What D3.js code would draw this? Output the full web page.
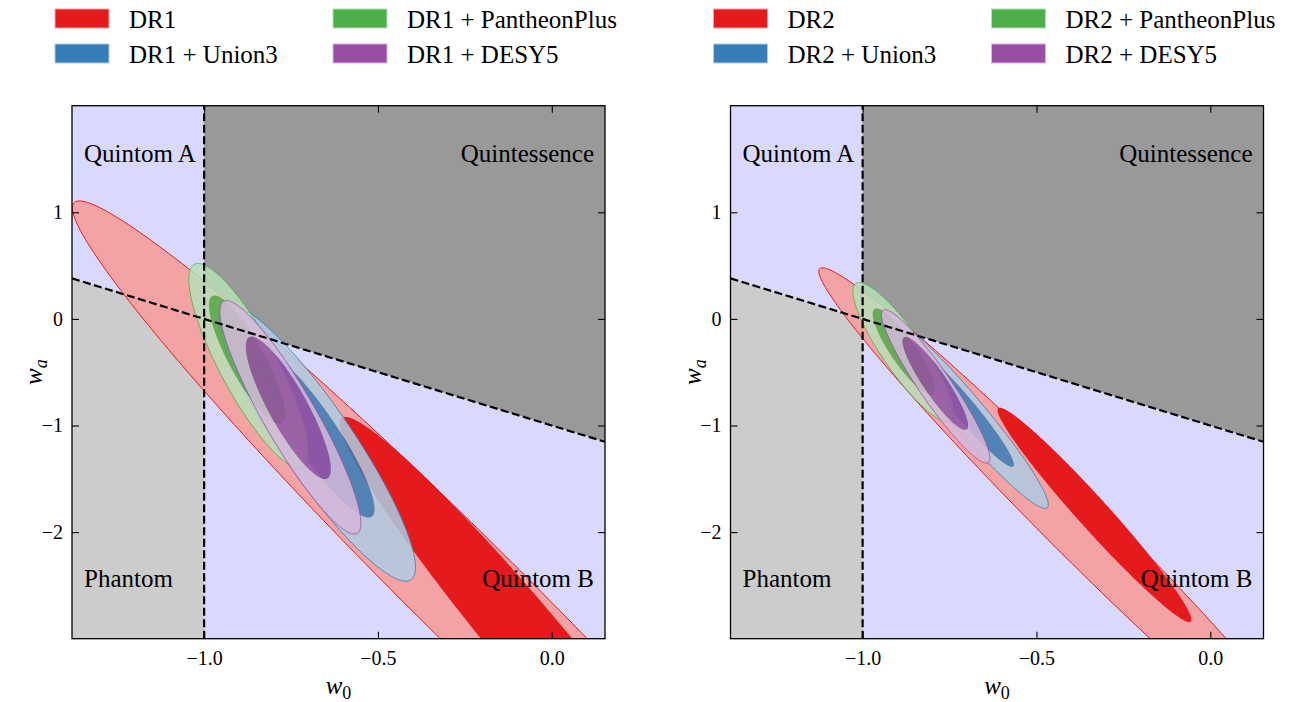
<!DOCTYPE html>
<html><head><meta charset="utf-8">
<script src="https://cdn.jsdelivr.net/npm/d3@7"></script>
<style>
body{margin:0;background:#fff}
svg text{font-family:"Liberation Serif","Times New Roman",serif;fill:#000}
</style>
</head><body>
<svg id="chart" width="1290" height="702"></svg>
<script>
// ---------------- data ----------------
const W0_DOMAIN = [-1.38, 0.153];
const WA_DOMAIN = [-3, 2];
const W0_TICKS = [-1.0, -0.5, 0.0];
const WA_TICKS = [-2, -1, 0, 1];
const PANEL_NAMES = ["DR1", "DR2"];
const SUFFIXES = ["", " + Union3", " + PantheonPlus", " + DESY5"];
const REGION_LABELS = ["Quintom A", "Quintessence", "Phantom", "Quintom B"];
// contour ellipses: [w0 centre, wa centre, w0 half-extent, wa half-extent, correlation]
// order: base, +Union3, +PantheonPlus, +DESY5
const DR1_95 = [
  [-0.251, -2.535, 1.128, 3.642, -0.982],
  [-0.675, -1.158, 0.283, 1.302, -0.900],
  [-0.872, -0.439, 0.172, 0.959, -0.843],
  [-0.752, -0.923, 0.203, 1.095, -0.906]
];
const DR1_68 = [
  [-0.050, -3.089, 0.560, 2.170, -0.972],
  [-0.682, -1.069, 0.172, 0.794, -0.900],
  [-0.877, -0.383, 0.109, 0.602, -0.850],
  [-0.758, -0.834, 0.122, 0.667, -0.860]
];
const DR2_95 = [
  [-0.390, -1.920, 0.736, 2.400, -0.986],
  [-0.707, -0.859, 0.241, 0.919, -0.962],
  [-0.883, -0.312, 0.145, 0.653, -0.875],
  [-0.790, -0.633, 0.156, 0.720, -0.935]
];
const DR2_68 = [
  [-0.333, -1.839, 0.279, 1.006, -0.977],
  [-0.712, -0.824, 0.147, 0.564, -0.962],
  [-0.882, -0.307, 0.089, 0.404, -0.875],
  [-0.791, -0.605, 0.094, 0.436, -0.905]
];

// ---------------- styles ----------------
const COLORS = ["#e41a1c", "#377eb8", "#4daf4a", "#984ea3"];
const ALPHAS = [1, 0.85, 0.85, 0.85];
const pale = c => { const r = d3.rgb(c); return d3.rgb(r.r*0.4+153, r.g*0.4+153, r.b*0.4+153).formatHex(); };
const BG = "#d9d9ff", QUINT = "#999999", PHANT = "#cccccc";

const svg = d3.select("#chart");
const AX = {w: 533, h: 533, top: 105.7};
const PANEL_LEFT = [72, 730.5];
const DATA95 = [DR1_95, DR2_95], DATA68 = [DR1_68, DR2_68];

const fmt = v => (v < 0 ? "\u2212" : "") + Math.abs(v).toFixed(1);
const fmtI = v => (v < 0 ? "\u2212" : "") + Math.abs(v);

PANEL_NAMES.forEach((pname, pi) => {
  const L = PANEL_LEFT[pi], T = AX.top, R = L + AX.w, B = T + AX.h;
  const x = d3.scaleLinear().domain(W0_DOMAIN).range([L, R]);
  const y = d3.scaleLinear().domain(WA_DOMAIN).range([B, T]);
  const g = svg.append("g");
  const clipId = "clip" + pi;
  svg.append("defs").append("clipPath").attr("id", clipId)
    .append("rect").attr("x", L).attr("y", T).attr("width", AX.w).attr("height", AX.h);
  const plot = g.append("g").attr("clip-path", `url(#${clipId})`);
  const poly = d3.line().x(d => x(d[0])).y(d => y(d[1]));
  const [x0, x1] = W0_DOMAIN, [y0, y1] = WA_DOMAIN;
  const div = w => -1 - w;
  // background regions
  plot.append("path").attr("d", poly([[x0,y0],[x1,y0],[x1,y1],[x0,y1]]) + "Z").attr("fill", BG);
  plot.append("path").attr("d", poly([[-1,y1],[x1,y1],[x1,div(x1)],[-1,div(-1)]]) + "Z").attr("fill", QUINT);
  plot.append("path").attr("d", poly([[x0,y0],[-1,y0],[-1,div(-1)],[x0,div(x0)]]) + "Z").attr("fill", PHANT);

  // contours
  const ell = p => {
    const [c0, c1, sx, sy, rho] = p, q = Math.sqrt(1 - rho*rho);
    const pts = d3.range(0, 360, 1).map(a => {
      const t = a * Math.PI / 180;
      return [c0 + sx*Math.cos(t), c1 + sy*(rho*Math.cos(t) + q*Math.sin(t))];
    });
    return poly(pts) + "Z";
  };
  [0, 1, 2, 3].forEach(k => {
    const outer = ell(DATA95[pi][k]), inner = ell(DATA68[pi][k]);
    const cg = plot.append("g").attr("opacity", ALPHAS[k]);
    cg.append("path").attr("d", outer + inner).attr("fill-rule", "evenodd").attr("fill", pale(COLORS[k]));
    cg.append("path").attr("d", inner).attr("fill", COLORS[k]);
    cg.append("path").attr("d", outer).attr("fill", "none").attr("stroke", COLORS[k]).attr("stroke-width", 1);
  });

  // dividing lines
  plot.append("path").attr("d", poly([[-1,y0],[-1,y1]])).attr("stroke", "#000")
    .attr("stroke-width", 2.2).attr("stroke-dasharray", "8,3.5").attr("fill", "none");
  plot.append("path").attr("d", poly([[x0,div(x0)],[x1,div(x1)]])).attr("stroke", "#000")
    .attr("stroke-width", 2.2).attr("stroke-dasharray", "8,3.5").attr("fill", "none");

  // region labels
  const fs = "25px";
  g.append("text").attr("x", L + 12).attr("y", T + 56).attr("font-size", fs).text(REGION_LABELS[0]);
  g.append("text").attr("x", R - 11).attr("y", T + 56).attr("font-size", fs).attr("text-anchor", "end").text(REGION_LABELS[1]);
  g.append("text").attr("x", L + 12).attr("y", B - 52).attr("font-size", fs).text(REGION_LABELS[2]);
  g.append("text").attr("x", R - 11).attr("y", B - 52).attr("font-size", fs).attr("text-anchor", "end").text(REGION_LABELS[3]);

  // axes
  const tl = 7;
  const axB = d3.axisBottom(x).tickValues(W0_TICKS).tickFormat(fmt).tickSizeInner(-tl).tickSizeOuter(0).tickPadding(12);
  const axT = d3.axisTop(x).tickValues(W0_TICKS).tickFormat("").tickSizeInner(-tl).tickSizeOuter(0);
  const axL = d3.axisLeft(y).tickValues(WA_TICKS).tickFormat(fmtI).tickSizeInner(-tl).tickSizeOuter(0).tickPadding(9);
  const axR = d3.axisRight(y).tickValues(WA_TICKS).tickFormat("").tickSizeInner(-tl).tickSizeOuter(0);
  const styleAx = s => { s.select(".domain").remove(); s.selectAll(".tick line").attr("stroke", "#000").attr("stroke-width", 1.1);
    s.selectAll(".tick text").attr("font-size", "20px").attr("font-family", "'Liberation Serif', serif").attr("fill", "#000"); };
  g.append("g").attr("transform", `translate(0,${B})`).call(axB).call(styleAx);
  g.append("g").attr("transform", `translate(0,${T})`).call(axT).call(styleAx);
  g.append("g").attr("transform", `translate(${L},0)`).call(axL).call(styleAx);
  g.append("g").attr("transform", `translate(${R},0)`).call(axR).call(styleAx);
  g.append("rect").attr("x", L).attr("y", T).attr("width", AX.w).attr("height", AX.h)
    .attr("fill", "none").attr("stroke", "#000").attr("stroke-width", 1.3);

  // axis labels
  const xl = g.append("text").attr("x", (L + R)/2).attr("y", 694).attr("text-anchor", "middle").attr("font-size", "25px");
  xl.append("tspan").attr("font-style", "italic").text("w");
  xl.append("tspan").attr("font-size", "18px").attr("dy", 5).text("0");
  const yl = g.append("text").attr("transform", `translate(${L - 30},${(T + B)/2}) rotate(-90)`).attr("text-anchor", "middle").attr("font-size", "25px");
  yl.append("tspan").attr("font-style", "italic").text("w");
  yl.append("tspan").attr("font-style", "italic").attr("font-size", "18px").attr("dy", 5).text("a");

  // legend
  const legCols = [[0, 1], [2, 3]];
  const colX = [L - 17, L + 261];
  const rowY = [9, 44];
  legCols.forEach((items, ci) => items.forEach((k, ri) => {
    g.append("rect").attr("x", colX[ci]).attr("y", rowY[ri]).attr("width", 54).attr("height", 19)
      .attr("fill", COLORS[k]).attr("stroke", pale(COLORS[k])).attr("stroke-width", 1);
    g.append("text").attr("x", colX[ci] + 74).attr("y", rowY[ri] + 19).attr("font-size", "25px").text(pname + SUFFIXES[k]);
  }));
});
</script>
</body></html>
